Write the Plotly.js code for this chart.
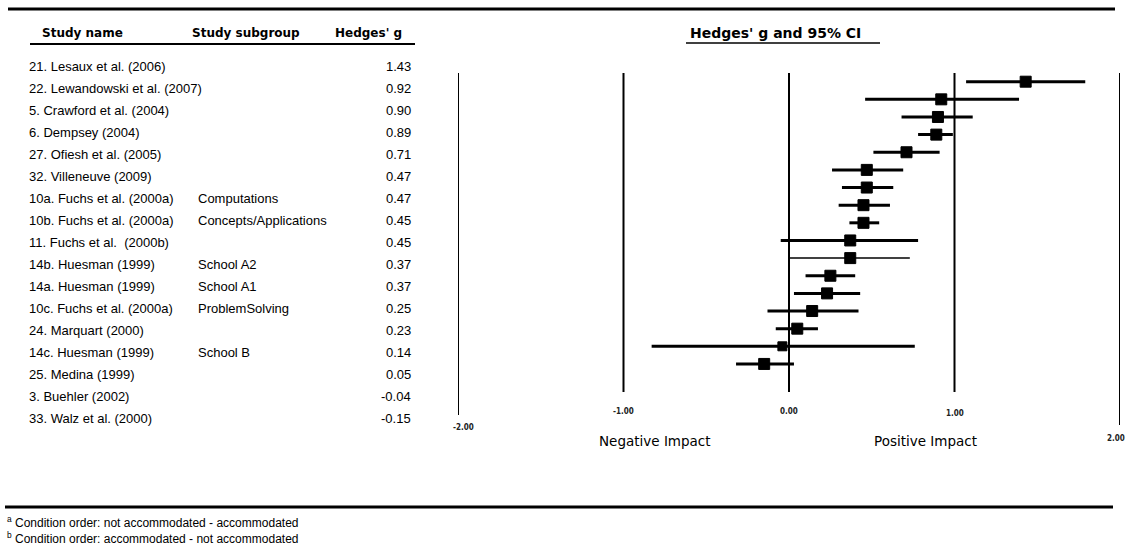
<!DOCTYPE html>
<html>
<head>
<meta charset="utf-8">
<script src="https://cdn.plot.ly/plotly-3.0.1.min.js"></script>
<style>html,body{margin:0;padding:0;background:#fff;}#chart{width:1127px;height:550px;}</style>
</head>
<body>
<div id="chart"></div>
<script>
// ---- data ----
var studyNames = ["21. Lesaux et al. (2006)","22. Lewandowski et al. (2007)","5. Crawford et al. (2004)","6. Dempsey (2004)","27. Ofiesh et al. (2005)","32. Villeneuve (2009)","10a. Fuchs et al. (2000a)","10b. Fuchs et al. (2000a)","11. Fuchs et al.  (2000b)","14b. Huesman (1999)","14a. Huesman (1999)","10c. Fuchs et al. (2000a)","24. Marquart (2000)","14c. Huesman (1999)","25. Medina (1999)","3. Buehler (2002)","33. Walz et al. (2000)"];
var subgroups = ["","","","","","","Computations","Concepts/Applications","","School A2","School A1","ProblemSolving","","School B","","",""];
var hedgesG = [1.43,0.92,0.90,0.89,0.71,0.47,0.47,0.45,0.45,0.37,0.37,0.25,0.23,0.14,0.05,-0.04,-0.15];
var ciLower = [1.07,0.46,0.68,0.78,0.51,0.26,0.32,0.30,0.365,-0.05,0.005,0.10,0.03,-0.13,-0.08,-0.83,-0.32];
var ciUpper = [1.79,1.39,1.11,0.99,0.91,0.69,0.63,0.61,0.545,0.78,0.73,0.40,0.43,0.42,0.175,0.76,0.03];
var tickVals = [-2,-1,0,1,2];
var tickLabels = ["-2.00","-1.00","0.00","1.00","2.00"];
var footnotes = ["<sup>a</sup> Condition order: not accommodated - accommodated","<sup>b</sup> Condition order: accommodated - not accommodated"];

// ---- layout helpers ----
var W = 1127, H = 550;
function py(p){ return 1 - p / H; }
function px(p){ return p / W; }
var rowTop = 81.7, rowStep = 17.64;       // forest plot rows (pixels)
var tRowTop = 66.7, tRowStep = 21.98;     // table rows (pixels)
function rowVal(p){ return (p - rowTop) / rowStep + 1; }

var traces = [];
var rows = hedgesG.map(function(_, i){ return i + 1; });
for (var i = 0; i < hedgesG.length; i++) {
  traces.push({
    type: 'scatter', mode: 'lines',
    x: [ciLower[i], ciUpper[i]], y: [rows[i], rows[i]],
    line: {color: '#000', width: (i === 10 ? 1.5 : 3)},
    hoverinfo: 'skip', showlegend: false
  });
}
traces.push({
  type: 'scatter', mode: 'markers',
  x: hedgesG, y: rows,
  marker: {symbol: 'square', color: '#000', opacity: 1, size: rows.map(function(r){ return r === 16 ? 9 : 11; }), line: {width: 1, color: '#000'}},
  showlegend: false
});

var shapes = [];
var lineEnds = {"-2": 415, "-1": 392, "0": 392, "1": 392, "2": 425};
tickVals.forEach(function(v){
  shapes.push({type: 'line', xref: 'x', yref: 'y', x0: v, x1: v, y0: rowVal(73), y1: rowVal(lineEnds[String(v)]), line: {color: '#000', width: 2}});
});
shapes.push({type:'line', xref:'paper', yref:'paper', x0: px(8), x1: px(1115), y0: py(9), y1: py(9), line:{color:'#000', width:3}});
shapes.push({type:'line', xref:'paper', yref:'paper', x0: px(5), x1: px(1113), y0: py(507), y1: py(507), line:{color:'#000', width:3}});
shapes.push({type:'line', xref:'paper', yref:'paper', x0: px(30), x1: px(415), y0: py(44), y1: py(44), line:{color:'#000', width:2}});
shapes.push({type:'line', xref:'paper', yref:'paper', x0: px(686), x1: px(880), y0: py(43), y1: py(43), line:{color:'#000', width:1.5}});

var ann = [];
var bodyFont = {family: 'Liberation Sans, Arial, sans-serif', size: 13, color: '#000'};
var headFont = {family: 'DejaVu Sans, sans-serif', size: 12, color: '#000', weight: 'bold'};
function addText(t, x, y, xa, font){
  ann.push({text: t, xref: 'paper', yref: 'paper', x: px(x), y: py(y), xanchor: xa, yanchor: 'middle', showarrow: false, font: font});
}
addText('<b>Study name</b>', 40, 33, 'left', headFont);
addText('<b>Study subgroup</b>', 190, 33, 'left', headFont);
addText('<b>Hedges\' g</b>', 333, 33, 'left', headFont);
addText('<b>Hedges\' g and 95% CI</b>', 688, 33, 'left', {family: 'DejaVu Sans, sans-serif', size: 14, color: '#000'});
for (var j = 0; j < studyNames.length; j++) {
  var yy = tRowTop + j * tRowStep;
  addText(studyNames[j], 27, yy, 'left', bodyFont);
  if (subgroups[j]) addText(subgroups[j], 196, yy, 'left', bodyFont);
  addText(hedgesG[j].toFixed(2), 413, yy, 'right', bodyFont);
}
var tickY = {"-2": 427, "-1": 411, "0": 411, "1": 413, "2": 438};
var tickXoff = {"-2": 5, "-1": 0, "0": 0, "1": 0, "2": -4};
tickVals.forEach(function(v, k){
  ann.push({text: '<b>' + tickLabels[k] + '</b>', xref: 'x', yref: 'paper', x: v, xshift: tickXoff[String(v)], y: py(tickY[String(v)]), xanchor: 'center', yanchor: 'middle', showarrow: false,
    font: {family: 'DejaVu Sans Condensed, DejaVu Sans, sans-serif', size: 8, color: '#222'}});
});
var impactFont = {family: 'DejaVu Sans, sans-serif', size: 13.5, color: '#000'};
addText('Negative Impact', 655, 441, 'center', impactFont);
addText('Positive Impact', 925, 441, 'center', impactFont);
addText(footnotes[0], 5, 522, 'left', {family: 'Liberation Sans, Arial, sans-serif', size: 12, color: '#000'});
addText(footnotes[1], 5, 538, 'left', {family: 'Liberation Sans, Arial, sans-serif', size: 12, color: '#000'});

var layout = {
  width: W, height: H,
  margin: {l: 0, r: 0, t: 0, b: 0},
  paper_bgcolor: '#fff', plot_bgcolor: '#fff',
  xaxis: {domain: [px(458), px(1120)], range: [-2, 2], visible: false, fixedrange: true},
  yaxis: {domain: [py(430), py(73)], range: [rowVal(430), rowVal(73)], visible: false, fixedrange: true},
  shapes: shapes,
  annotations: ann,
  showlegend: false
};
Plotly.newPlot('chart', traces, layout, {displayModeBar: false, staticPlot: true});
</script>
</body>
</html>
